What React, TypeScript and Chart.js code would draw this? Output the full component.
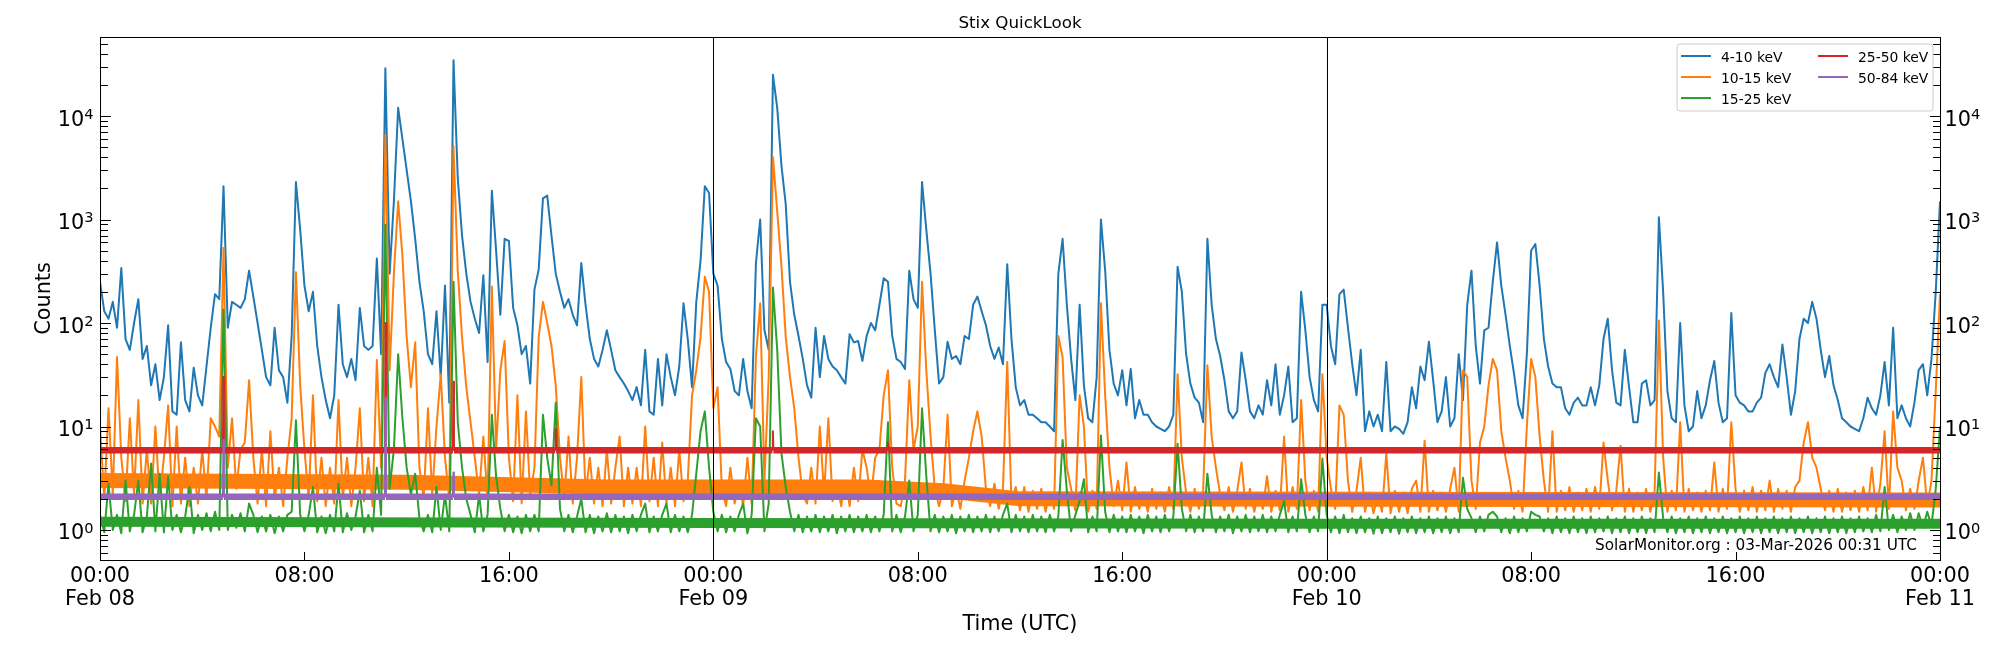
import React, { useEffect, useRef } from "react";
import { Chart, registerables } from "chart.js";

Chart.register(...registerables);

// ---------------- data ----------------
const STEP_HOURS = 10 / 60; // 10-minute samples, hours since Feb 08 00:00 UTC

const seriesNames = ["4-10 keV", "10-15 keV", "15-25 keV", "25-50 keV", "50-84 keV"];
const seriesColors = ["#1f77b4", "#ff7f0e", "#2ca02c", "#d62728", "#9467bd"];

const tickHours = [0, 8, 16, 24, 32, 40, 48, 56, 64, 72];
const tickTimeLabels = ["00:00", "08:00", "16:00", "00:00", "08:00", "16:00", "00:00", "08:00", "16:00", "00:00"];
const tickDateLabels = ["Feb 08", "", "", "Feb 09", "", "", "Feb 10", "", "", "Feb 11"];
const dayLineHours = [24, 48];
const yDecades = [0, 1, 2, 3, 4];

const counts4to10 = [
  250,130,110,160,90,340,
  70,55,100,170,45,60,
  25,40,18,30,95,14,
  13,65,18,14,37,20,
  16,38,90,190,170,2100,
  90,160,150,140,170,320,
  180,100,55,30,25,90,
  35,30,17,75,2300,800,
  230,130,200,60,30,18,
  12,20,150,40,30,45,
  28,140,60,55,60,420,
  50,29000,300,1500,12000,6000,
  3000,1500,650,250,130,50,
  40,130,30,230,17,34500,
  2500,700,300,160,110,80,
  290,42,1900,500,120,650,
  620,140,95,50,60,26,
  210,330,1600,1700,700,300,
  200,140,170,120,95,380,
  150,70,45,38,55,85,
  55,35,30,26,22,18,
  24,16,55,14,13,45,
  16,50,30,20,38,155,
  70,24,160,400,2100,1800,
  300,230,70,42,36,22,
  20,45,22,15,380,1000,
  85,55,25000,12000,3300,1400,
  250,120,75,45,25,19,
  90,30,75,45,38,35,
  30,26,78,65,67,43,
  75,100,85,150,270,250,
  75,45,42,36,320,170,
  140,2300,800,300,85,26,
  30,66,45,48,40,75,
  70,150,180,130,95,60,
  45,58,40,370,70,24,
  16,18,13,13,12,11,
  11,10,9,300,650,150,
  45,18,150,25,12,11,
  30,1000,320,55,26,20,
  35,16,36,12,18,13,
  13,11,10,9.5,9,10,
  13,350,200,50,26,19,
  17,11,650,150,70,48,
  28,14,12,14,52,28,
  14,12,16,13,28,16,
  40,13,20,38,11,12,
  200,85,30,18,14,150,
  150,60,40,190,210,90,
  40,20,55,9,14,10,
  13,9,42,9,10,9.5,
  8.5,11,24,15,38,28,
  66,28,11,14,30,10,
  12,50,18,150,320,60,
  26,85,90,250,600,230,
  120,60,32,16,12,50,
  500,580,230,70,38,26,
  24,24,15,13,17,19,
  16,16,24,16,25,70,
  110,35,17,16,55,24,
  11,11,26,28,16,18,
  1050,200,22,12,11,100,
  16,9,10,22,12,16,
  28,43,17,11,12,125,
  20,17,16,14,14,17,
  19,33,40,30,24,62,
  30,13,22,70,110,100,
  160,110,55,30,48,25,
  18,12,11,10,9.5,9,
  12,19,15,13,20,42,
  16,90,12,16,12,10,
  17,35,40,20,45,200,
  1500,
];

const counts10to15 = [
  10,2.0,15,2.2,47,5,
  1.9,12,2.2,18,1.8,6,
  1.8,10,2.0,5,16,1.7,
  10,1.8,5,1.7,4,1.8,
  6,2.0,12,10,8,530,
  4,12,2.5,6,7,28,
  5,1.8,6,1.7,9,2.0,
  4,1.7,5,12,310,25,
  6,2.0,20,1.9,5,1.7,
  4,1.8,18,2.0,5,1.7,
  4,15,1.9,5,1.7,44,
  4,6600,35,300,1500,450,
  73,24,65,4,2.0,15,
  2.2,10,32,5,2.0,5100,
  320,73,24,11,5,2.2,
  8,2.0,225,6,35,67,
  5,1.9,20,1.8,14,2.2,
  4,73,160,100,60,25,
  5,2.0,8,1.8,5,30,
  2.2,5,1.8,4,1.7,6,
  1.8,4,8,1.7,4,1.8,
  4,1.7,10,1.9,5,1.7,
  7,1.8,4,1.7,6,1.9,
  3,20,35,73,280,200,
  15,24,2.5,1.7,4,1.8,
  3,1.7,5,1.8,47,155,
  3,30,4000,1200,350,73,
  30,15,5,2.2,1.8,4,
  1.8,10,2.2,12,1.9,3,
  1.7,3,1.7,4,1.9,6,
  4,2.0,5,6,20,35,
  4,1.8,1.7,3,28,6,
  10,250,35,8,2.5,1.7,
  2.5,13,1.7,2.5,1.6,3,
  5,9,14,8,2.5,1.7,
  2.8,1.6,2.5,42,1.8,2.6,
  1.55,2.6,1.5,2.4,1.6,2.5,
  1.5,2.3,1.6,75,47,4,
  2.5,1.55,20,10,1.5,2.4,
  1.6,155,20,4,1.7,3,
  1.55,4.5,1.5,2.6,1.6,2.3,
  1.5,2.5,1.6,2.3,1.5,2.6,
  1.6,32,5,2.3,1.5,2.5,
  1.6,2.4,39,8,4,2.2,
  1.55,2.6,1.5,2.4,4.5,1.6,
  2.5,1.5,2.3,1.6,3.3,1.5,
  2.4,1.55,8,1.5,2.6,1.6,
  18,3,1.55,2.4,1.5,32,
  5,2.5,1.6,16,13,3,
  1.5,2.4,5,1.5,2.3,1.45,
  2.2,1.5,5.5,1.45,2.4,1.5,
  2.3,1.45,2.5,3,1.5,7.3,
  1.5,2.4,1.55,2.3,1.5,2.5,
  4,1.5,35,30,3,1.6,
  7,10,25,45,35,9,
  5,3,1.6,2.4,1.5,10,
  45,30,8,3,1.5,9,
  1.5,2.4,1.55,2.6,1.5,2.3,
  1.55,2.5,1.5,2.6,1.6,7,
  3,1.55,2.4,6.5,1.5,2.5,
  1.5,2.3,1.55,2.5,1.5,2.4,
  106,5,1.5,2.4,1.55,11,
  1.5,2.5,1.55,2.3,1.5,2.4,
  1.55,4.5,1.5,2.5,1.6,11,
  2.5,1.5,2.4,1.55,2.6,1.5,
  2.4,1.55,3,1.5,2.5,1.6,
  2.4,1.5,2.6,3,7,11,
  5,4,2.5,1.55,2.4,1.5,
  2.5,1.5,2.3,1.55,2.4,1.5,
  2.6,1.55,4,1.5,2.8,9,
  1.6,14,4,3,1.55,2.5,
  1.6,3,5,1.7,3,22,
  190,
];

const counts15to25 = [
  1.4,0.95,2.8,1.0,1.4,0.93,
  3,0.97,1.4,3,0.95,1.35,
  4.4,0.97,3.5,0.95,3.3,1.0,
  1.4,0.95,1.35,2.6,0.93,1.4,
  1.0,1.45,0.97,1.5,1.0,135,
  1.0,1.4,1.05,1.45,0.97,1.8,
  1.4,0.95,1.35,0.97,1.4,0.93,
  1.35,0.97,1.4,1.5,11.5,1.4,
  0.97,1.4,2.6,0.95,1.35,0.93,
  1.4,0.97,2.8,0.95,1.45,1.0,
  1.35,2.4,0.95,1.4,0.97,4,
  1.4,890,2.5,6,50,12,
  4,2.2,3.5,1.3,0.97,1.4,
  0.95,2.6,1.0,2.2,0.97,250,
  11,4,2,1.4,0.95,2.2,
  0.97,1.4,13,3.3,1.6,0.97,
  1.4,0.95,1.35,0.93,1.4,0.97,
  1.4,0.97,13,5,2.7,17,
  1.6,0.97,1.4,0.95,1.35,2.0,
  0.95,1.4,0.93,1.35,0.97,1.45,
  0.95,1.4,0.97,1.35,0.93,1.4,
  0.97,1.4,1.8,0.95,1.35,0.97,
  1.4,1.8,0.95,1.4,0.97,1.35,
  0.95,1.4,3.5,9,14,4,
  1.5,0.97,1.4,0.95,1.35,0.97,
  1.4,1.8,0.93,1.4,12,10,
  0.97,1.8,220,55,5.5,2.6,
  1.5,0.97,1.4,0.95,1.35,0.97,
  1.4,0.95,1.35,0.97,1.4,0.93,
  1.35,0.97,1.4,0.95,1.35,0.97,
  1.4,0.95,1.35,0.97,1.4,11,
  0.97,1.4,0.95,1.35,3,0.97,
  1.4,15,3.3,0.97,1.4,0.95,
  1.35,0.97,1.4,0.93,1.35,0.97,
  1.4,0.95,1.35,0.97,1.4,0.95,
  1.35,0.97,1.4,1.8,0.95,1.4,
  0.97,1.35,0.95,1.4,0.97,1.35,
  0.95,1.4,0.97,1.35,7.4,2.4,
  0.97,1.4,1.9,3.1,0.95,1.35,
  0.97,8.2,1.5,0.95,1.4,0.97,
  1.35,0.95,1.4,0.97,1.35,0.93,
  1.4,0.97,1.35,0.95,1.4,0.97,
  1.35,6.8,1.6,0.97,1.4,0.95,
  1.35,0.97,3.5,1.4,0.95,1.35,
  0.97,1.4,0.93,1.35,0.97,1.4,
  0.95,1.35,0.97,1.4,0.95,1.35,
  0.97,1.4,1.9,0.95,1.35,0.97,
  3.1,1.4,0.95,1.35,0.97,4.9,
  1.4,0.95,1.35,0.93,1.4,0.95,
  1.3,0.93,1.35,0.95,1.3,0.92,
  1.35,0.93,1.3,0.95,1.35,0.92,
  1.3,0.95,1.35,0.93,1.3,0.95,
  1.35,0.93,1.3,0.95,1.35,0.93,
  1.3,0.95,3.2,1.6,1.3,0.95,
  1.35,0.97,1.4,1.5,1.35,0.95,
  1.3,0.93,1.35,0.95,1.3,0.97,
  1.5,1.4,1.35,0.97,1.3,0.93,
  1.35,0.95,1.3,0.93,1.35,0.95,
  1.3,0.93,1.35,0.95,1.3,0.97,
  1.35,0.93,1.3,0.95,1.35,0.93,
  1.3,0.95,1.35,0.93,1.3,0.95,
  3.6,1.3,0.95,1.35,0.93,1.3,
  0.95,1.35,0.93,1.3,0.95,1.35,
  0.93,1.3,0.95,1.35,0.93,1.3,
  0.95,1.35,0.93,1.3,0.95,1.35,
  0.93,1.3,0.95,1.35,0.93,1.3,
  0.95,1.35,0.93,1.3,0.95,1.35,
  0.93,1.3,0.95,1.35,0.93,1.3,
  0.95,1.35,0.93,1.3,0.95,1.35,
  0.97,1.3,0.95,1.4,0.97,2.6,
  1.0,1.4,0.95,1.35,1.0,1.45,
  1.0,1.45,1.05,1.5,1.1,2.5,
  10,
];

// [hour, counts] — flat background with the few narrow spikes
const counts25to50 = [
  [0, 5.9], [4.81, 5.9], [4.83, 30], [4.85, 5.9], [11.15, 5.9], [11.17, 100], [11.19, 5.9],
  [13.81, 5.9], [13.83, 27], [13.85, 5.9], [17.81, 5.9], [17.83, 9.5], [17.85, 5.9],
  [26.31, 5.9], [26.33, 9], [26.35, 5.9], [30.81, 5.9], [30.83, 7], [30.85, 5.9], [72, 5.9],
];
const counts50to84 = [
  [0, 2.1], [4.81, 2.1], [4.83, 7.4], [4.85, 2.1], [11.15, 2.1], [11.17, 19], [11.19, 2.1],
  [13.81, 2.1], [13.83, 3.6], [13.85, 2.1], [72, 2.1],
];

// [hour, counts] — centre of the dense noise floor of the two middle channels
const floor10to15 = [[0, 3.0], [12, 2.9], [19.8, 2.6], [30, 2.6], [33, 2.4], [36, 2.0], [72, 1.95]];
const floor15to25 = [[0, 1.2], [24, 1.17], [48, 1.15], [72, 1.15]];

// ---------------- drawing ----------------
const FONT = '"DejaVu Sans", "Liberation Sans", sans-serif';
const TICK_PX = 20.8;
const SUP_PX = 14.6;

const gridSeries = (vals: number[]) => vals.map((y, i) => ({ x: i * STEP_HOURS, y }));
const pairSeries = (pairs: number[][]) => pairs.map(([x, y]) => ({ x, y }));

// background level drawn as a wide band, excursions above it as a thin line
const bandWidth = (limit: number, wide: number) => (c: any) =>
  c.p0.parsed.y <= limit && c.p1.parsed.y <= limit ? wide : 2;

const decor = {
  id: "stixDecor",
  afterDatasetsDraw(chart: any) {
    const { ctx, chartArea: a, scales } = chart;
    ctx.save();
    ctx.strokeStyle = "#000";
    ctx.lineWidth = 1;
    ctx.beginPath();
    for (const h of dayLineHours) {
      const px = Math.round(scales.x.getPixelForValue(h)) + 0.5;
      ctx.moveTo(px, a.top);
      ctx.lineTo(px, a.bottom);
    }
    ctx.stroke();
    ctx.restore();
  },
  afterDraw(chart: any) {
    const { ctx, chartArea: a, scales } = chart;
    const xs = scales.x;
    const ys = scales.y;
    ctx.save();
    ctx.strokeStyle = "#000";
    ctx.lineWidth = 1;
    ctx.strokeRect(a.left + 0.5, a.top + 0.5, a.right - a.left, a.bottom - a.top);

    // ticks (inward)
    ctx.beginPath();
    for (let e = -1; e <= 5; e++) {
      for (let k = 1; k <= 9; k++) {
        const v = k * Math.pow(10, e);
        if (v < ys.min || v > ys.max) continue;
        const py = Math.round(ys.getPixelForValue(v)) + 0.5;
        const len = k === 1 ? 11 : 8;
        ctx.moveTo(a.left, py);
        ctx.lineTo(a.left + len, py);
        ctx.moveTo(a.right + 1, py);
        ctx.lineTo(a.right + 1 - len, py);
      }
    }
    for (const h of tickHours) {
      const px = Math.round(xs.getPixelForValue(h)) + 0.5;
      ctx.moveTo(px, a.bottom);
      ctx.lineTo(px, a.bottom - 8);
    }
    ctx.stroke();

    ctx.fillStyle = "#000";
    ctx.textBaseline = "alphabetic";

    // y tick labels 10^n, both sides
    for (const e of yDecades) {
      const py = ys.getPixelForValue(Math.pow(10, e));
      const base = `${TICK_PX}px ${FONT}`;
      const sup = `${SUP_PX}px ${FONT}`;
      ctx.font = base;
      const w10 = ctx.measureText("10").width;
      ctx.font = sup;
      const ws = ctx.measureText(String(e)).width;
      ctx.textAlign = "left";
      const lx = a.left - 6.5 - ws - w10;
      ctx.font = base;
      ctx.fillText("10", lx, py + 9.5);
      ctx.font = sup;
      ctx.fillText(String(e), lx + w10, py + 2.8);
      const rx = a.right + 4.5;
      ctx.font = base;
      ctx.fillText("10", rx, py + 9.5);
      ctx.font = sup;
      ctx.fillText(String(e), rx + w10, py + 2.8);
    }

    // x tick labels
    ctx.font = `${TICK_PX}px ${FONT}`;
    ctx.textAlign = "center";
    tickHours.forEach((h, i) => {
      const px = xs.getPixelForValue(h);
      ctx.fillText(tickTimeLabels[i], px, a.bottom + 22);
      if (tickDateLabels[i]) ctx.fillText(tickDateLabels[i], px, a.bottom + 44.5);
    });

    // axis labels and title
    const cx = (a.left + a.right) / 2;
    ctx.font = `${TICK_PX}px ${FONT}`;
    ctx.fillText("Time (UTC)", cx, a.bottom + 70);
    ctx.save();
    ctx.translate(50, (a.top + a.bottom) / 2);
    ctx.rotate(-Math.PI / 2);
    ctx.fillText("Counts", 0, 0);
    ctx.restore();
    ctx.font = `16.7px ${FONT}`;
    ctx.fillText("Stix QuickLook", cx, a.top - 9);

    // annotation
    ctx.font = `15.3px ${FONT}`;
    ctx.textAlign = "right";
    ctx.fillText("SolarMonitor.org : 03-Mar-2026 00:31 UTC", a.right - 23, a.bottom - 10);

    // legend (2 columns, column-wise fill)
    const bx = a.right - 263, by = a.top + 7, bw = 256, bh = 67, r = 3;
    ctx.beginPath();
    ctx.moveTo(bx + r, by);
    ctx.lineTo(bx + bw - r, by);
    ctx.arcTo(bx + bw, by, bx + bw, by + r, r);
    ctx.lineTo(bx + bw, by + bh - r);
    ctx.arcTo(bx + bw, by + bh, bx + bw - r, by + bh, r);
    ctx.lineTo(bx + r, by + bh);
    ctx.arcTo(bx, by + bh, bx, by + bh - r, r);
    ctx.lineTo(bx, by + r);
    ctx.arcTo(bx, by, bx + r, by, r);
    ctx.closePath();
    ctx.fillStyle = "rgba(255,255,255,0.8)";
    ctx.fill();
    ctx.strokeStyle = "#cccccc";
    ctx.lineWidth = 1;
    ctx.stroke();
    ctx.font = `13.9px ${FONT}`;
    ctx.textAlign = "left";
    const colX = [bx + 4, bx + 141];
    seriesNames.forEach((name, i) => {
      const col = i < 3 ? 0 : 1;
      const row = i < 3 ? i : i - 3;
      const hy = by + 12 + row * 21;
      const hx = colX[col];
      ctx.strokeStyle = seriesColors[i];
      ctx.lineWidth = 2;
      ctx.beginPath();
      ctx.moveTo(hx, hy);
      ctx.lineTo(hx + 30, hy);
      ctx.stroke();
      ctx.fillStyle = "#000";
      ctx.fillText(name, hx + 40, hy + 5.5);
    });
    ctx.restore();
  },
};

export default function App() {
  const ref = useRef<HTMLCanvasElement>(null);
  useEffect(() => {
    document.body.style.margin = "0";
    const canvas = ref.current;
    if (!canvas) return;
    const common = { pointRadius: 0, fill: false, tension: 0, borderJoinStyle: "round", borderCapStyle: "butt", clip: 0 };
    const chart = new Chart(canvas, {
      type: "line",
      data: {
        datasets: [
          { ...common, label: seriesNames[0], data: gridSeries(counts4to10), borderColor: seriesColors[0], borderWidth: 2, order: 7 },
          { ...common, label: seriesNames[1] + " floor", data: pairSeries(floor10to15), borderColor: seriesColors[1], borderWidth: 15, order: 6 },
          { ...common, label: seriesNames[1], data: gridSeries(counts10to15), borderColor: seriesColors[1], borderWidth: 2, order: 5 },
          { ...common, label: seriesNames[2] + " floor", data: pairSeries(floor15to25), borderColor: seriesColors[2], borderWidth: 10, order: 4 },
          { ...common, label: seriesNames[2], data: gridSeries(counts15to25), borderColor: seriesColors[2], borderWidth: 2, order: 3 },
          {
            ...common, label: seriesNames[3], data: pairSeries(counts25to50), borderColor: seriesColors[3], borderWidth: 6.5, order: 2,
            segment: { borderWidth: bandWidth(6.5, 6.5) },
          },
          {
            ...common, label: seriesNames[4], data: pairSeries(counts50to84), borderColor: seriesColors[4], borderWidth: 6.5, order: 1,
            segment: { borderWidth: bandWidth(2.3, 6.5) },
          },
        ] as any,
      },
      options: {
        animation: false,
        responsive: false,
        maintainAspectRatio: false,
        events: [],
        layout: { padding: { left: 100, right: 60, top: 37, bottom: 90 } },
        plugins: { legend: { display: false }, tooltip: { enabled: false }, title: { display: false } },
        scales: {
          x: { type: "linear", min: 0, max: 72, display: false },
          y: { type: "logarithmic", min: 0.513, max: 58000, display: false },
        },
      } as any,
      plugins: [decor],
    });
    return () => chart.destroy();
  }, []);
  return (
    <div style={{ width: 2000, height: 650, background: "#fff" }}>
      <canvas ref={ref} width={2000} height={650} style={{ display: "block", width: "2000px", height: "650px" }} />
    </div>
  );
}
